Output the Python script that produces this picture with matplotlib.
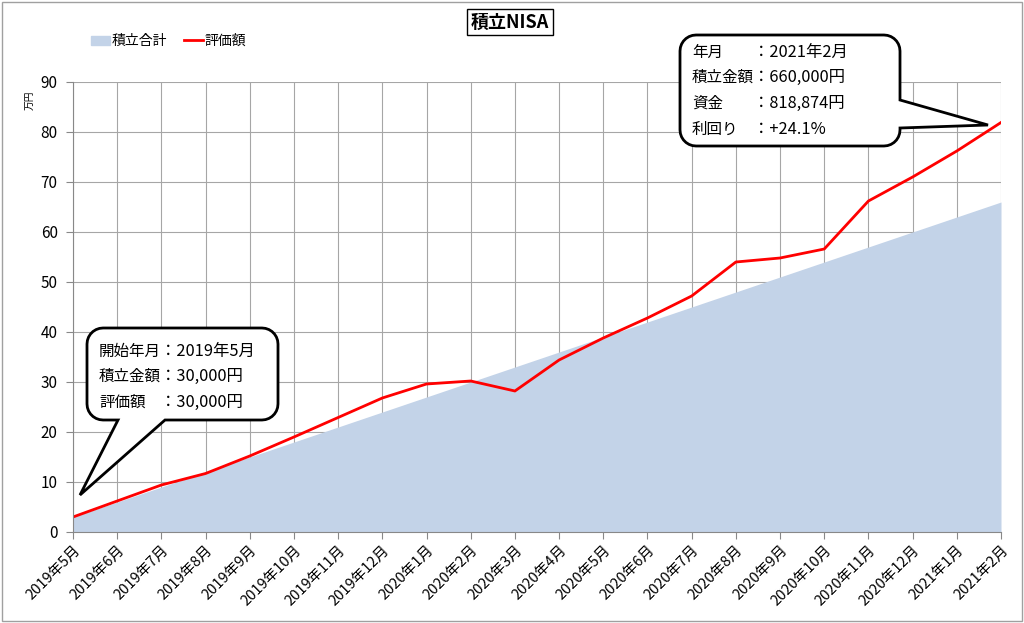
import numpy as np
import matplotlib.pyplot as plt
from matplotlib.patches import Polygon, Rectangle, Patch
from matplotlib.lines import Line2D

plt.rcParams['font.family'] = ['Noto Sans CJK JP', 'DejaVu Sans']

# data (万円)
months = ["2019年5月", "2019年6月", "2019年7月", "2019年8月", "2019年9月", "2019年10月",
          "2019年11月", "2019年12月", "2020年1月", "2020年2月", "2020年3月", "2020年4月",
          "2020年5月", "2020年6月", "2020年7月", "2020年8月", "2020年9月", "2020年10月",
          "2020年11月", "2020年12月", "2021年1月", "2021年2月"]
tsumitate = [3, 6, 9, 12, 15, 18, 21, 24, 27, 30, 33, 36, 39, 42, 45, 48, 51, 54, 57, 60, 63, 66]
hyoka = [3.0, 6.2, 9.4, 11.7, 15.2, 19.0, 22.9, 26.8, 29.6, 30.2, 28.2, 34.4,
         38.8, 42.8, 47.2, 54.0, 54.8, 56.6, 66.2, 71.0, 76.2, 81.9]

W, H = 1024, 623
fig = plt.figure(figsize=(W / 100, H / 100), dpi=100)
ax = fig.add_axes([73 / W, 1 - 532 / H, 928 / W, 450 / H])

x = np.arange(len(months))
ax.fill_between(x, tsumitate, 0, color="#C3D3E8", lw=0, zorder=2)
ax.plot(x, hyoka, color="#FF0000", lw=2, zorder=3)

ax.set_xlim(0, len(months) - 1)
ax.set_ylim(0, 90)
ax.set_yticks(range(0, 91, 10))
ax.set_xticks(x)
ax.set_xticklabels(months, rotation=45, ha="right", rotation_mode="anchor", fontsize=10.5)
ax.tick_params(axis="y", labelsize=11, length=5, color="#888888", pad=6)
ax.tick_params(axis="x", length=5, color="#888888", pad=3)
ax.grid(True, color="#A6A6A6", lw=0.8, zorder=1)
ax.set_axisbelow(True)
for s in ["top", "right"]:
    ax.spines[s].set_visible(False)
for s in ["left", "bottom"]:
    ax.spines[s].set_color("#888888")
    ax.spines[s].set_zorder(4)

fig.text(30 / W, 1 - 100 / H, "万円", rotation=90, fontsize=7, ha="center", va="center")

# title box
fig.text(510 / W, 1 - 22 / H, "積立NISA", fontsize=13, fontweight="bold", ha="center", va="center",
         bbox=dict(boxstyle="square,pad=0.2", fc="white", ec="black", lw=1))

# legend
handles = [Patch(color="#C3D3E8"), Line2D([], [], color="#FF0000", lw=2)]
fig.legend(handles, ["積立合計", "評価額"], loc="center left", bbox_to_anchor=(78 / W, 1 - 41 / H),
           ncol=2, frameon=False, fontsize=10, handlelength=1.4, handleheight=0.6,
           handletextpad=0.1, columnspacing=1.2)

# border round figure
fig.add_artist(Rectangle((2 / W, 2 / H), 1 - 4 / W, 1 - 4 / H, transform=fig.transFigure,
                         fill=False, ec="#A0A0A0", lw=1))


def to_fig(pts):
    return [(px / W, 1 - py / H) for px, py in pts]


def callout(x0, y0, x1, y1, r, edge, tail):
    # clockwise on screen (y down); tail inserted on given edge
    pts = []
    def arc(cx, cy, a0, a1):
        for a in np.linspace(a0, a1, 8):
            pts.append((cx + r * np.cos(np.radians(a)), cy + r * np.sin(np.radians(a))))
    arc(x0 + r, y0 + r, 180, 270)
    arc(x1 - r, y0 + r, 270, 360)
    if edge == "right":
        pts.extend(tail)
    arc(x1 - r, y1 - r, 0, 90)
    if edge == "bottom":
        pts.extend(tail)
    arc(x0 + r, y1 - r, 90, 180)
    fig.add_artist(Polygon(to_fig(pts), closed=True, transform=fig.transFigure,
                           fc="white", ec="black", lw=2, zorder=10))


callout(87, 328, 278, 420, 16, "bottom", [(165, 420), (80, 495), (118, 420)])
callout(680, 35, 900, 146, 16, "right", [(900, 100), (988, 125), (900, 128)])

box1 = [("開始年月", "2019年5月"), ("積立金額", "30,000円"), ("評価額", "30,000円")]
for i, (k, v) in enumerate(box1):
    yy = 1 - (351 + i * 25.5) / H
    fig.text(99 / W, yy, k, fontsize=11.2, va="center", zorder=11)
    fig.text(160 / W, yy, "：" + v, fontsize=11.8, va="center", zorder=11)

box2 = [("年月", "2021年2月"), ("積立金額", "660,000円"), ("資金", "818,874円"), ("利回り", "+24.1%")]
for i, (k, v) in enumerate(box2):
    yy = 1 - (52 + i * 25.7) / H
    fig.text(692 / W, yy, k, fontsize=11.2, va="center", zorder=11)
    fig.text(753 / W, yy, "：" + v, fontsize=11.8, va="center", zorder=11)

fig.savefig("out.png", dpi=100)
